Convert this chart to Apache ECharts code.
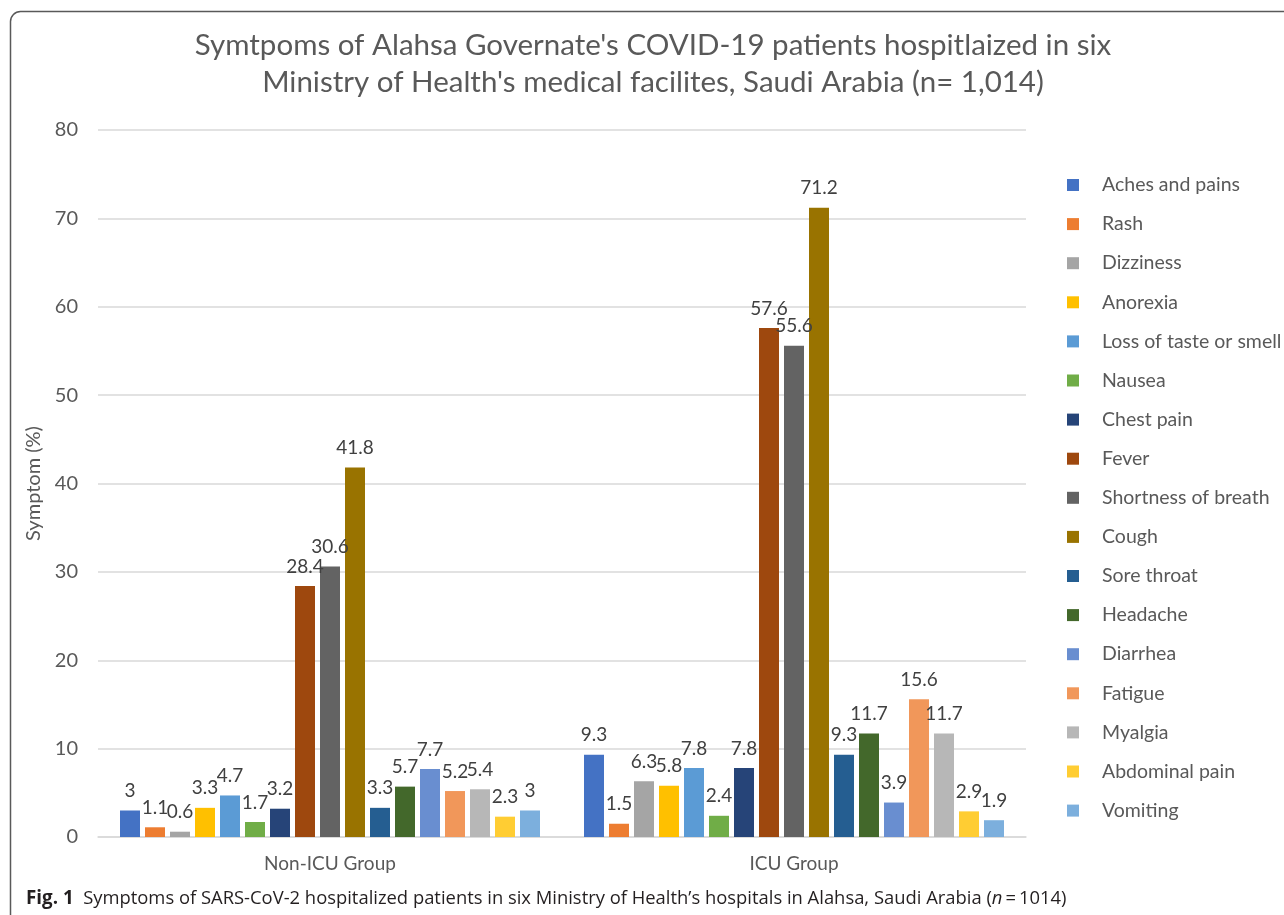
<!DOCTYPE html>
<html>
<head>
<meta charset="utf-8">
<script src="https://cdn.jsdelivr.net/npm/echarts@6/dist/echarts.min.js"></script>
<style>
  html, body { margin: 0; padding: 0; background: #fff; }
  #chart { width: 1284px; height: 915px; }
</style>
</head>
<body>
<div id="chart"></div>
<script>
var groups = ['Non-ICU Group', 'ICU Group'];
var symptoms = ['Aches and pains', 'Rash', 'Dizziness', 'Anorexia', 'Loss of taste or smell',
    'Nausea', 'Chest pain', 'Fever', 'Shortness of breath', 'Cough', 'Sore throat',
    'Headache', 'Diarrhea', 'Fatigue', 'Myalgia', 'Abdominal pain', 'Vomiting'];
var nonIcu = [3, 1.1, 0.6, 3.3, 4.7, 1.7, 3.2, 28.4, 30.6, 41.8, 3.3, 5.7, 7.7, 5.2, 5.4, 2.3, 3];
var icu = [9.3, 1.5, 6.3, 5.8, 7.8, 2.4, 7.8, 57.6, 55.6, 71.2, 9.3, 11.7, 3.9, 15.6, 11.7, 2.9, 1.9];
var yTicks = [0, 80, 10];

var palette = ['#4472C4', '#ED7D31', '#A5A5A5', '#FFC000', '#5B9BD5', '#70AD47', '#264478',
    '#9E480E', '#636363', '#997300', '#255E91', '#43682B', '#698ED0', '#F1975A', '#B7B7B7',
    '#FFCD33', '#7CAFDD'];

var font = 'Lato, "Open Sans", sans-serif';
var chart = echarts.init(document.getElementById('chart'));

var series = symptoms.map(function (name, i) {
    return {
        name: name,
        type: 'bar',
        data: [nonIcu[i], icu[i]],
        barWidth: 20,
        barGap: '25%',
        itemStyle: { color: palette[i] },
        label: {
            show: true,
            position: 'top',
            distance: 10,
            color: '#404040',
            fontSize: 19,
            fontFamily: font
        }
    };
});

var option = {
    animation: false,
    backgroundColor: '#fff',
    title: {
        text: "Symtpoms of Alahsa Governate's COVID-19 patients hospitlaized in six\nMinistry of Health's medical facilites, Saudi Arabia (n= 1,014)",
        left: 648,
        textAlign: 'center',
        top: 22,
        textStyle: {
            fontFamily: font,
            fontSize: 29.5,
            fontWeight: 'normal',
            color: '#595959',
            lineHeight: 37
        }
    },
    legend: {
        orient: 'vertical',
        left: 1062,
        top: 170,
        icon: 'rect',
        itemWidth: 12,
        itemHeight: 12,
        itemGap: 19.1,
        data: symptoms,
        textStyle: {
            fontFamily: font,
            fontSize: 19.5,
            color: '#595959',
            padding: [0, 0, 0, 18]
        }
    },
    grid: { left: 98, right: 258, top: 130, bottom: 78 },
    xAxis: {
        type: 'category',
        data: groups,
        axisLine: { lineStyle: { color: '#d9d9d9', width: 1.5 } },
        axisTick: { show: false },
        axisLabel: { color: '#595959', fontSize: 19, fontFamily: font, margin: 17 }
    },
    yAxis: {
        type: 'value',
        min: yTicks[0],
        max: yTicks[1],
        interval: yTicks[2],
        name: 'Symptom (%)',
        nameLocation: 'middle',
        nameGap: 49,
        nameTextStyle: { color: '#595959', fontSize: 20, fontFamily: font },
        axisLine: { show: false },
        axisTick: { show: false },
        axisLabel: { color: '#595959', fontSize: 20, fontFamily: font, margin: 20 },
        splitLine: { lineStyle: { color: '#d9d9d9', width: 1.5 } }
    },
    graphic: [
        {
            type: 'rect',
            shape: { x: 10.5, y: 11.5, width: 1400, height: 1000, r: 10 },
            style: { fill: null, stroke: '#595959', lineWidth: 1.5 },
            silent: true
        },
        {
            type: 'text',
            left: 26,
            top: 889,
            style: {
                text: '{b|Fig. 1}  Symptoms of SARS-CoV-2 hospitalized patients in six Ministry of Health\u2019s hospitals in Alahsa, Saudi Arabia ({i|n}\u2009=\u20091014)',
                fontFamily: '"Open Sans", sans-serif',
                fontSize: 18.4,
                fill: '#231f20',
                rich: {
                    b: { fontWeight: 'bold', fontSize: 18.8, fontFamily: '"Open Sans", sans-serif', fill: '#231f20' },
                    i: { fontStyle: 'italic', fontSize: 18.4, fontFamily: '"Open Sans", sans-serif', fill: '#231f20' }
                }
            }
        }
    ],
    series: series
};

chart.setOption(option);
</script>
</body>
</html>
